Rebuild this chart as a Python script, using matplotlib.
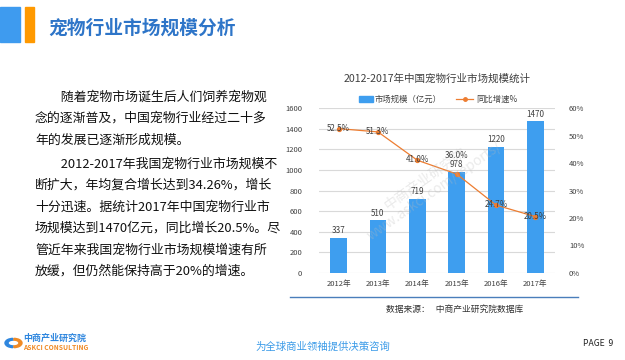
import matplotlib
matplotlib.use('Agg')
import matplotlib.pyplot as plt
from matplotlib.patches import Rectangle, Wedge

plt.rcParams['font.family'] = ['Noto Sans CJK SC', 'DejaVu Sans']

# data
years = ['2012年', '2013年', '2014年', '2015年', '2016年', '2017年']
market_size = [337, 510, 719, 978, 1220, 1470]      # 亿元
growth = [52.5, 51.3, 41.0, 36.0, 24.7, 20.5]        # %
growth_offsets = [(0, -3), (0, -3), (0, -3), (0, 10), (0, -3), (0, -3)]

page_title = '宠物行业市场规模分析'
chart_title = '2012-2017年中国宠物行业市场规模统计'
body_lines = [
    '　　随着宠物市场诞生后人们饲养宠物观',
    '念的逐渐普及，中国宠物行业经过二十多',
    '年的发展已逐渐形成规模。',
    '　　2012-2017年我国宠物行业市场规模不',
    '断扩大，年均复合增长达到34.26%，增长',
    '十分迅速。据统计2017年中国宠物行业市',
    '场规模达到1470亿元，同比增长20.5%。尽',
    '管近年来我国宠物行业市场规模增速有所',
    '放缓，但仍然能保持高于20%的增速。',
]

BLUE = '#3E9EEF'
ORANGE = '#ED7D31'
W, H = 625, 360

fig = plt.figure(figsize=(6.25, 3.6), dpi=100)

def px(x, y):
    return x / W, 1 - y / H

# header blocks and title
fig.patches.append(Rectangle(px(0, 42), 20 / W, 35 / H, transform=fig.transFigure,
                             color='#3E9BEF', zorder=0))
fig.patches.append(Rectangle(px(25, 42), 9 / W, 35 / H, transform=fig.transFigure,
                             color='#FF9900', zorder=0))
fig.text(*px(48, 28), page_title, fontsize=13.5, fontweight='bold', color='#2E75C8',
         va='center', ha='left')

# left paragraph
ys = [97, 118.5, 140, 164, 185.5, 207, 228.5, 250, 271.5]
for line, y in zip(body_lines, ys):
    fig.text(*px(35, y), line, fontsize=9.3, color='#111111', va='center', ha='left')

# chart
ax = fig.add_axes([319 / W, 1 - 273 / H, 236 / W, 165 / H])
x = list(range(len(years)))
ax.bar(x, market_size, width=0.43, color=BLUE, zorder=2)
ax.set_ylim(0, 1600)
ax.set_xlim(-0.5, len(years) - 0.5)
ax.set_yticks(range(0, 1601, 200))
ax.yaxis.grid(True, color='#D9D9D9', linewidth=0.8, zorder=0)
ax.set_axisbelow(True)
for s in ax.spines.values():
    s.set_visible(False)
ax.tick_params(axis='both', length=0, labelsize=5.5, labelcolor='#404040')
ax.tick_params(axis='y', pad=12)
ax.tick_params(axis='x', pad=5)
ax.set_xticks(x)
ax.set_xticklabels(years)
for xi, v in zip(x, market_size):
    ax.annotate(str(v), (xi, v), xytext=(0, 2), textcoords='offset points',
                ha='center', va='bottom', fontsize=5.8, color='#404040')

ax2 = ax.twinx()
ax2.plot(x, growth, color=ORANGE, linewidth=0.9, marker='o', markersize=2.8, zorder=3)
ax2.set_ylim(0, 60)
ax2.set_yticks(range(0, 61, 10))
ax2.set_yticklabels([f'{t}%' for t in range(0, 61, 10)])
for s in ax2.spines.values():
    s.set_visible(False)
ax2.tick_params(axis='y', length=0, labelsize=5.5, labelcolor='#404040', pad=10)
for xi, g, off in zip(x, growth, growth_offsets):
    ax2.annotate(f'{g:.1f}%', (xi, g), xytext=off, textcoords='offset points',
                 ha='center', va='bottom', fontsize=5.8, color='#404040')

fig.text(*px(437, 79), chart_title, fontsize=7.6, color='#404040', ha='center', va='center')

# legend drawn in figure coords
fig.patches.append(Rectangle(px(359, 102), 14 / W, 6 / H, transform=fig.transFigure,
                             color=BLUE))
fig.text(*px(375, 99), '市场规模（亿元）', fontsize=6.0, color='#404040', va='center')
fig.lines.append(plt.Line2D([456 / W, 473 / W], [1 - 99 / H] * 2, transform=fig.transFigure,
                            color=ORANGE, linewidth=0.9))
fig.lines.append(plt.Line2D([464.5 / W], [1 - 99 / H], transform=fig.transFigure,
                            color=ORANGE, marker='o', markersize=2.5))
fig.text(*px(476, 99), '同比增速%', fontsize=6.0, color='#404040', va='center')

# watermark
fig.text(*px(430, 185), '中商产业研究院\nwww.askci.com/reports/', fontsize=10, color='#BBBBBB',
         alpha=0.3, rotation=35, ha='center', va='center', linespacing=1.1)

# separator and source
fig.lines.append(plt.Line2D([290 / W, 578 / W], [1 - 297 / H] * 2, transform=fig.transFigure,
                            color='#4A7EBB', linewidth=1.0))
fig.text(*px(455, 309), '数据来源：   中商产业研究院数据库', fontsize=6.3, color='#333333',
         ha='center', va='center')

# footer
fig.patches.append(Wedge(px(13, 343), 8 / W, 90, 270, width=3 / W, transform=fig.transFigure,
                         color='#2E86DE'))
fig.patches.append(Wedge(px(14, 343), 8 / W, -90, 90, width=3 / W, transform=fig.transFigure,
                         color='#F08A24'))
fig.text(*px(23, 338), '中商产业研究院', fontsize=6.5, fontweight='bold', color='#2E86DE',
         va='center')
fig.text(*px(23, 348), 'ASKCI CONSULTING', fontsize=4.8, fontweight='bold', color='#F08A24',
         va='center')
fig.text(*px(323, 347), '为全球商业领袖提供决策咨询', fontsize=7.5, style='italic',
         color='#3B9BE8', ha='center', va='center')
fig.text(*px(583, 344), 'PAGE  9', fontsize=6.2, color='#222222', va='center')

fig.savefig('out.png', dpi=100)
